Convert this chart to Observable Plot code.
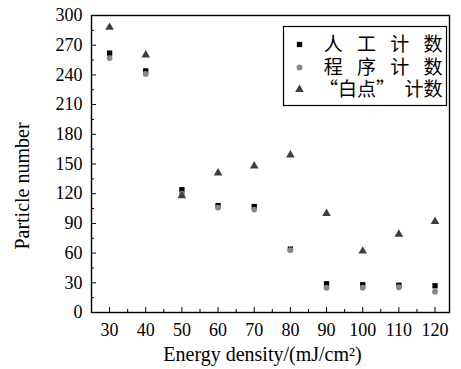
<!DOCTYPE html>
<html>
<head>
<meta charset="utf-8">
<script src="https://cdn.jsdelivr.net/npm/d3@7"></script>
<script src="https://cdn.jsdelivr.net/npm/@observablehq/plot@0.6"></script>
<style>
  html, body { margin: 0; padding: 0; background: white; }
</style>
</head>
<body>
<div id="chart"></div>
<script>
const energy = [30, 40, 50, 60, 70, 80, 90, 100, 110, 120];
const manualCount = [262, 244, 124, 108, 107, 64, 29, 28, 27.5, 27];
const programCount = [257, 241, 120, 106, 104, 63, 25, 25, 25.5, 21];
const whiteDotCount = [288, 260, 118, 141, 148, 159, 100, 62, 79, 92];

const seriesNames = ["人工计数", "程序计数", "“白点”计数"];
const legendLabels = ["人\u2002\u2005工\u2002\u2005计\u2002\u2005数", "程\u2002\u2005序\u2002\u2005计\u2002\u2005数", "“白点”\u2002计数"];

const yMajor = [0, 30, 60, 90, 120, 150, 180, 210, 240, 270, 300];
const yMinor = [15, 45, 75, 105, 135, 165, 195, 225, 255, 285];
const xMajor = [30, 40, 50, 60, 70, 80, 90, 100, 110, 120];
const xMinor = [35, 45, 55, 65, 75, 85, 95, 105, 115];

const W = 461, H = 369;
const mL = 91, mR = 12, mT = 15, mB = 57;
const innerW = W - mL - mR, innerH = H - mT - mB;

const manual = energy.map((x, i) => ({x, y: manualCount[i]}));
const program = energy.map((x, i) => ({x, y: programCount[i]}));
const white = energy.map((x, i) => ({x, y: whiteDotCount[i]}));

const serif = "Liberation Serif, Times New Roman, serif";
const cjk = "Noto Sans CJK SC, sans-serif";

const chart = Plot.plot({
  width: W,
  height: H,
  marginLeft: mL,
  marginRight: mR,
  marginTop: mT,
  marginBottom: mB,
  x: {domain: [25, 124]},
  y: {domain: [0, 300]},
  style: {fontFamily: serif, background: "white", color: "black"},
  marks: [
    Plot.axisY({ticks: yMajor, tickSize: 0, tickPadding: 9, fontSize: 18, label: null, fontFamily: serif}),
    Plot.axisX({ticks: xMajor, tickSize: 0, tickPadding: 11, fontSize: 18, label: null, fontFamily: serif}),
    Plot.tickY(yMajor, {y: d => d, insetRight: innerW - 5, stroke: "black", strokeWidth: 1}),
    Plot.tickY(yMinor, {y: d => d, insetRight: innerW - 3, stroke: "black", strokeWidth: 1}),
    Plot.tickX(xMajor, {x: d => d, insetTop: innerH - 5, stroke: "black", strokeWidth: 1}),
    Plot.tickX(xMinor, {x: d => d, insetTop: innerH - 3, stroke: "black", strokeWidth: 1}),
    Plot.frame({stroke: "black", strokeWidth: 1.4}),
    Plot.dot(manual, {x: "x", y: "y", symbol: "square", r: 3, fill: "#000000", stroke: null}),
    Plot.dot(program, {x: "x", y: "y", symbol: "circle", r: 2.9, fill: "#878787", stroke: null}),
    Plot.dot(white, {x: "x", y: "y", symbol: "triangle", r: 3.2, fill: "#3e3e3e", stroke: null}),
    // legend
    Plot.frame({stroke: "black", strokeWidth: 1.2, insetLeft: 192, insetRight: 3, insetTop: 11, insetBottom: innerH - 90}),
    Plot.dot([seriesNames[0]], {frameAnchor: "top-right", dx: -150, dy: 29, symbol: "square", r: 3, fill: "#000000", stroke: null}),
    Plot.dot([seriesNames[1]], {frameAnchor: "top-right", dx: -150, dy: 52, symbol: "circle", r: 2.9, fill: "#878787", stroke: null}),
    Plot.dot([seriesNames[2]], {frameAnchor: "top-right", dx: -150, dy: 74, symbol: "triangle", r: 3.2, fill: "#3e3e3e", stroke: null}),
    Plot.text([legendLabels[0]], {frameAnchor: "top-right", text: d => d, textAnchor: "end", lineAnchor: "middle", dx: -7, dy: 29, fontSize: 19, fontFamily: cjk, fill: "black"}),
    Plot.text([legendLabels[1]], {frameAnchor: "top-right", text: d => d, textAnchor: "end", lineAnchor: "middle", dx: -7, dy: 52, fontSize: 19, fontFamily: cjk, fill: "black"}),
    Plot.text([legendLabels[2]], {frameAnchor: "top-right", text: d => d, textAnchor: "end", lineAnchor: "middle", dx: -7, dy: 74, fontSize: 19, fontFamily: cjk, fill: "black"}),
    // axis titles
    Plot.text(["Particle number"], {frameAnchor: "left", text: d => d, rotate: -90, textAnchor: "middle", lineAnchor: "middle", dx: -69, dy: 22, fontSize: 20, fontFamily: serif, fill: "black"}),
    Plot.text(["Energy density/(mJ/cm²)"], {frameAnchor: "bottom", text: d => d, textAnchor: "middle", lineAnchor: "middle", dx: -8, dy: 42, fontSize: 20, fontFamily: serif, fill: "black"})
  ]
});

document.getElementById("chart").appendChild(chart);
</script>
</body>
</html>
